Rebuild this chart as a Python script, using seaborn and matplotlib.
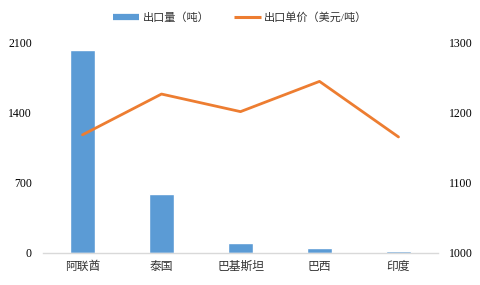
import matplotlib
matplotlib.use("Agg")
import matplotlib.pyplot as plt
from matplotlib.lines import Line2D
import seaborn as sns
import pandas as pd

categories = ["阿联酋", "泰国", "巴基斯坦", "巴西", "印度"]
volume = [2020, 587, 100, 50, 23]          # 出口量（吨）
price = [1168, 1226, 1201, 1244, 1165]     # 出口单价（美元/吨）
left_ticks = [0, 700, 1400, 2100]
right_ticks = [1000, 1100, 1200, 1300]
vol_label = "出口量（吨）"
price_label = "出口单价（美元/吨）"

sns.set_theme(style="white")
plt.rcParams["font.family"] = ["Liberation Serif", "Noto Sans CJK SC", "DejaVu Sans"]

BAR = "#5B9BD5"
LINE = "#ED7D31"

df = pd.DataFrame({"country": categories, "volume": volume, "price": price})

fig = plt.figure(figsize=(4.8, 2.85), dpi=100)
ax = fig.add_axes([0.0896, 0.1123, 0.8229, 0.7403])

sns.barplot(data=df, x="country", y="volume", color=BAR, width=0.32,
            saturation=1, ax=ax)
ax.set_ylim(0, 2100)
ax.set_yticks(left_ticks)
ax.set_xlabel("")
ax.set_ylabel("")

ax2 = ax.twinx()
sns.pointplot(data=df, x="country", y="price", color=LINE, markers="",
              linewidth=2.0, ax=ax2)
ax2.set_ylim(1000, 1300)
ax2.set_yticks(right_ticks)
ax2.set_ylabel("")
ax2.set_xlabel("")
ax.set_xlim(-0.5, len(categories) - 0.5)
ax2.set_xlim(-0.5, len(categories) - 0.5)

for a in (ax, ax2):
    for s in a.spines.values():
        s.set_visible(False)
    a.grid(False)
    a.tick_params(length=0)
ax.spines["bottom"].set_visible(True)
ax.spines["bottom"].set_color("#d9d9d9")
ax.spines["bottom"].set_linewidth(1.0)

ax.tick_params(axis="y", labelsize=8.5, colors="#000000", pad=8)
ax.tick_params(axis="x", labelsize=8.5, colors="#333333", pad=6)
ax2.tick_params(axis="y", labelsize=8.5, colors="#000000", pad=8)
ax2.tick_params(axis="x", labelbottom=False)

handles = [Line2D([], [], color=BAR, lw=4.5, solid_capstyle="butt"),
           Line2D([], [], color=LINE, lw=2.2, solid_capstyle="butt")]
fig.legend(handles, [vol_label, price_label], loc="center",
           bbox_to_anchor=(0.5, 0.94), ncol=2, frameon=False,
           fontsize=8, handlelength=2.4, handletextpad=0.3,
           columnspacing=2.2, labelcolor="#333333")

fig.savefig("out.png", dpi=100)
